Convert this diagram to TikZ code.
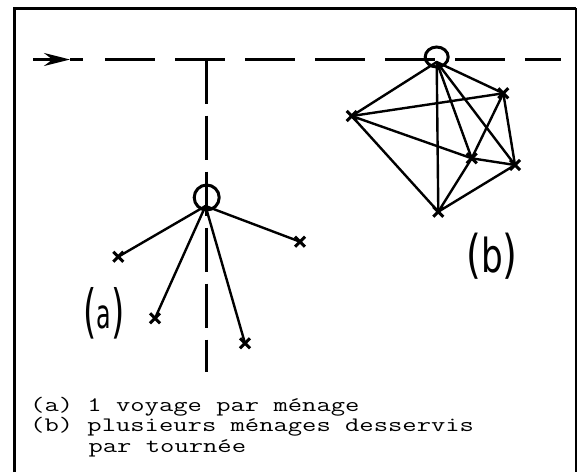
\documentclass[tikz,border=0pt]{standalone}
\usepackage{fontspec}
\usepackage{graphicx}
\newfontfamily\handfont{DejaVu Sans}
\usetikzlibrary{arrows.meta,shapes.misc,shapes.geometric}
\newcommand\legtxt[1]{\scalebox{1}[0.74]{\fontsize{27.8}{27.8}\selectfont\ttfamily #1}}
\begin{document}
\begin{tikzpicture}[x=1pt,y=-1pt,
  ln/.style={line width=2.4pt, line cap=round},
  mk/.style={cross out, draw, line width=3pt, minimum size=7pt, inner sep=0pt},
  legend/.style={anchor=base west, inner sep=0pt},
  hand/.style={inner sep=0pt}]
\useasboundingbox (0,0) rectangle (578,472);
\fill[white] (0,0) rectangle (578,472);
% frame
\draw[line width=3pt] (14,472) -- (14,8) -- (576,8);
\draw[line width=2pt] (576,8) -- (576,472);
% main dashed line with arrow
\coordinate (hs) at (33,59.5);
\coordinate (ht) at (70,59.5);
\coordinate (he) at (83,59.5);
\coordinate (ds) at (105,59.5);
\coordinate (de) at (561,59.5);
\draw[line width=2.6pt, -{Stealth[length=26pt,width=13pt]}] (hs) -- (ht);
\draw[line width=2.6pt] (ht) -- (he);
\draw[line width=2.6pt, dash pattern=on 50pt off 20pt] (ds) -- (de);
% vertical dashed line
\coordinate (vs) at (206.5,59.5);
\coordinate (ve) at (206.5,372);
\draw[line width=2.4pt, dash pattern=on 44pt off 12pt] (vs) -- (ve);
% (a) star
\node[circle, draw, line width=3pt, minimum size=25pt, inner sep=0pt] (ca) at (206.7,197.5) {};
\coordinate (ha) at (205.5,206);
\node[mk] (a1) at (118.3,256.7) {};
\node[mk] (a2) at (155,318.3) {};
\node[mk] (a3) at (245,343.3) {};
\node[mk] (a4) at (300,241.7) {};
\foreach \n in {a1,a2,a3,a4} \draw[ln] (ha) -- (\n.center);
% (b) tour
\node[ellipse, draw, line width=3pt, minimum width=23pt, minimum height=20pt, inner sep=0pt] (cb) at (436.7,57) {};
\coordinate (hb) at (436.7,62);
\node[mk] (bL) at (351.7,116) {};
\node[mk] (bT) at (503.3,93.3) {};
\node[mk] (bM) at (471.7,158.3) {};
\node[mk] (bR) at (515,165) {};
\node[mk] (bB) at (438.3,211.7) {};
\foreach \n in {bL,bT,bM,bR,bB} \draw[ln] (hb) -- (\n.center);
\draw[ln] (bL.center) -- (bT.center);
\draw[ln] (bL.center) -- (bM.center);
\draw[ln] (bL.center) -- (bB.center);
\draw[ln] (bT.center) -- (bM.center);
\draw[ln] (bT.center) -- (bR.center);
\draw[ln] (bM.center) -- (bR.center);
\draw[ln] (bM.center) -- (bB.center);
\draw[ln] (bB.center) -- (bR.center);
% handwritten labels
\node[hand] (la) at (104,313) {\scalebox{0.85}[1.45]{\handfont\fontsize{40}{40}\selectfont(\raisebox{2pt}{\fontsize{28}{28}\selectfont a})}};
\node[hand] (lb) at (492,256) {\scalebox{0.95}[1.3]{\handfont\fontsize{40}{40}\selectfont({\fontsize{36}{36}\selectfont b})}};
% legend
\node[legend] (t1) at (30,411.5) {\legtxt{(a) 1 voyage par ménage}};
\node[legend] (t2) at (30,431.5) {\legtxt{(b) plusieurs ménages desservis}};
\node[legend] (t3) at (88.4,452.5) {\legtxt{par tournée}};
\end{tikzpicture}
\end{document}
